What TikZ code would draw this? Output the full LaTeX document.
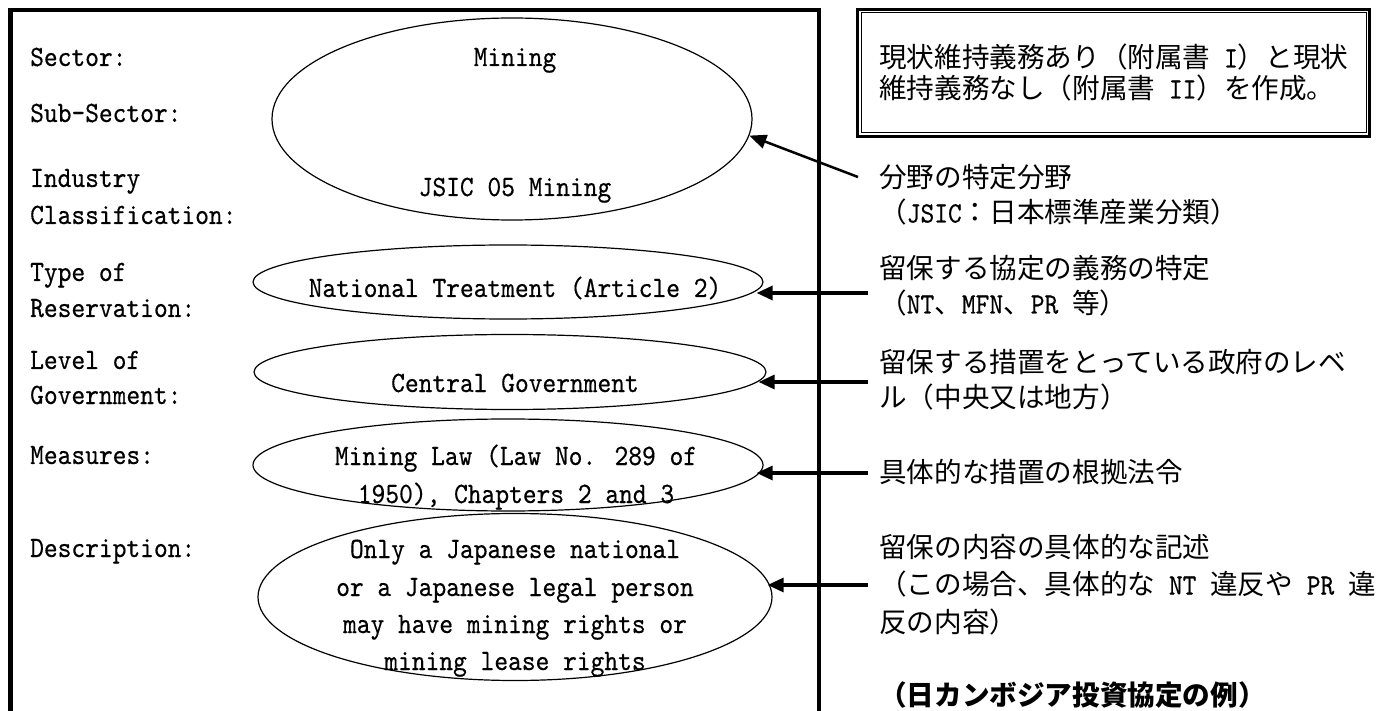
\documentclass[tikz,border=0pt]{standalone}
\usepackage{fontspec}
\newfontfamily\cjk{Noto Sans CJK JP}
\newfontfamily\monolat[FakeStretch=0.888,FakeBold=0.4]{lmmono10-regular.otf}
\usetikzlibrary{shapes.geometric,arrows.meta}
\newcommand\mlatfont{\monolat\fontsize{29.5pt}{33pt}\selectfont}
\newcommand\cjkfont{\cjk\fontsize{27.6pt}{33pt}\selectfont}
\newcommand\mlat[1]{{\mlatfont #1}}
\begin{document}
\begin{tikzpicture}[x=1pt,y=-1pt,
  lab/.style={anchor=west,inner sep=0pt,font=\mlatfont,text height=18pt,text depth=0pt},
  etext/.style={anchor=center,inner sep=0pt,font=\mlatfont,text height=18pt,text depth=0pt},
  jtext/.style={anchor=west,inner sep=0pt,font=\cjkfont,text height=21pt,text depth=0pt},
  oval/.style={ellipse,draw,line width=1.2pt,inner sep=0pt},
  arr/.style={line width=3.2pt,-{Triangle[length=16pt,width=14pt]}},
  diag/.style={line width=2.5pt,-{Triangle[length=17pt,width=14pt]}},
]
\useasboundingbox (0,0) rectangle (1377,711);
\fill[white] (0,0) rectangle (1377,711);

% main frame (open at bottom)
\draw[line width=4.5pt] (10.5,730) -- (10.5,10) -- (819,10) -- (819,730);

% double framed note box
\node[draw,line width=3pt,minimum width=512pt,minimum height=127pt,inner sep=0pt] (box) at (1113.5,73) {};
\draw[line width=1pt] ([xshift=5pt,yshift=-5pt]box.north west) rectangle ([xshift=-5pt,yshift=5pt]box.south east);
\node[jtext] (bx1) at (879,57) {現状維持義務あり（附属書\mlat{\ I}）と現状};
\node[jtext] (bx2) at (879,88) {維持義務なし（附属書\mlat{\ II}）を作成。};

% left labels
\node[lab] (l1) at (30,57) {Sector:};
\node[lab] (l2) at (30,113) {Sub-Sector:};
\node[lab] (l3a) at (30,178) {Industry};
\node[lab] (l3b) at (30,215) {Classification:};
\node[lab] (l4a) at (30,272) {Type of};
\node[lab] (l4b) at (30,308) {Reservation:};
\node[lab] (l5a) at (30,360) {Level of};
\node[lab] (l5b) at (30,395) {Government:};
\node[lab] (l6) at (30,455) {Measures:};
\node[lab] (l7) at (30,548) {Description:};

% ellipses
\node[oval,minimum width=480pt,minimum height=202pt] (big) at (512,119) {};
\node[oval,minimum width=510pt,minimum height=74pt] (nt) at (508,282) {};
\node[oval,minimum width=512pt,minimum height=75pt] (cg) at (510,372) {};
\node[oval,minimum width=510pt,minimum height=92pt] (ms) at (508,465) {};
\node[oval,minimum width=514pt,minimum height=167pt] (ds) at (515,597) {};

% ellipse texts
\node[etext] (e1) at (515,57) {Mining};
\node[etext] (e2) at (515,187) {JSIC 05 Mining};
\node[etext] (e3) at (515,288) {National Treatment (Article 2)};
\node[etext] (e4) at (515,383) {Central Government};
\node[etext] (e5a) at (516,456) {Mining Law (Law No. 289 of};
\node[etext] (e5b) at (516,494) {1950), Chapters 2 and 3};
\node[etext] (e6a) at (515,549) {Only a Japanese national};
\node[etext] (e6b) at (515,587) {or a Japanese legal person};
\node[etext] (e6c) at (515,624) {may have mining rights or};
\node[etext] (e6d) at (515,661) {mining lease rights};

% right explanations
\node[jtext] (r1a) at (879,177) {分野の特定分野};
\node[jtext] (r1b) at (879,212) {（\mlat{JSIC}：日本標準産業分類）};
\node[jtext] (r2a) at (879,268) {留保する協定の義務の特定};
\node[jtext] (r2b) at (879,303) {（\mlat{NT}、\mlat{MFN}、\mlat{PR\ }等）};
\node[jtext] (r3a) at (879,362) {留保する措置をとっている政府のレベ};
\node[jtext] (r3b) at (879,397) {ル（中央又は地方）};
\node[jtext] (r4) at (879,472) {具体的な措置の根拠法令};
\node[jtext] (r5a) at (879,547) {留保の内容の具体的な記述};
\node[jtext] (r5b) at (879,584) {（この場合、具体的な\mlat{\ NT\ }違反や\mlat{\ PR\ }違};
\node[jtext] (r5c) at (879,622) {反の内容）};
\node[jtext,font=\cjkfont\bfseries] (note) at (879,695) {（日カンボジア投資協定の例）};

% arrows
\coordinate (s0) at (858,177);
\coordinate (s1) at (868,293);
\coordinate (s2) at (868,382);
\coordinate (s3) at (868,473);
\coordinate (s4) at (868,585);
\draw[diag] (s0) -- (big.-4.6);
\draw[arr,shorten >=-7pt] (s1) -- (s1 -| nt.east);
\draw[arr,shorten >=-8pt] (s2) -- (s2 -| cg.east);
\draw[arr,shorten >=-7pt] (s3) -- (s3 -| ms.east);
\draw[arr,shorten >=-5pt] (s4) -- (s4 -| ds.east);
\end{tikzpicture}
\end{document}
